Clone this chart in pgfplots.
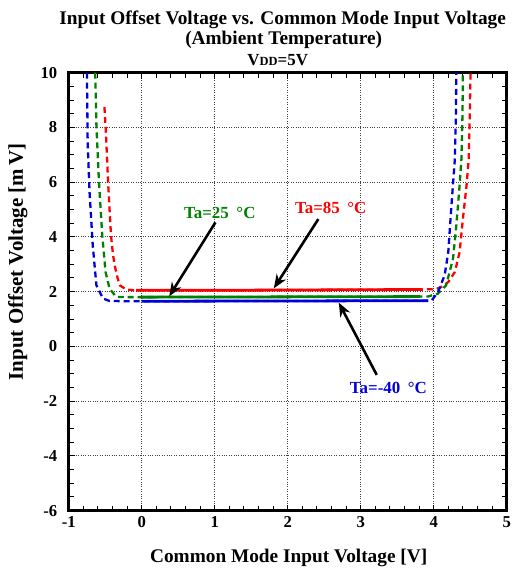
\documentclass[border=0pt]{standalone}
\usepackage{fontspec}
\setmainfont{Liberation Serif}
\usepackage{pgfplots}
\pgfplotsset{compat=1.18}
\usetikzlibrary{arrows.meta}
\definecolor{cred}{RGB}{255,0,0}
\definecolor{cgreen}{RGB}{0,128,0}
\definecolor{cblue}{RGB}{0,0,220}
\begin{document}
\begin{tikzpicture}
\begin{axis}[
  name=ax,
  scale only axis,
  width=440pt, height=440pt,
  xmin=-1, xmax=5, ymin=-6, ymax=10,
  xtick={-1,0,...,5}, ytick={-6,-4,...,10},
  minor x tick num=4, minor y tick num=3,
  tick align=inside,
  major tick length=6pt, minor tick length=5pt,
  tick style={black, line width=1pt},
  axis line style={line width=2.5pt},
  grid=major,
  major grid style={dotted, black!75, line width=1pt},
  /pgf/number format/assume math mode=true,
  ticklabel style={font=\bfseries\fontsize{16.7}{18}\selectfont},
  xticklabel style={yshift=-2pt},
  yticklabel style={xshift=-8pt},
  clip=true,
  dashpat/.style={dash pattern=on 6pt off 4pt, line width=2.3pt},
]
% red 85C
\addplot[cred, dashpat] coordinates {
(-0.51,8.75) (-0.49,7.8) (-0.46,6.0) (-0.44,5.0) (-0.42,4.05) (-0.395,3.4) (-0.37,2.96) (-0.33,2.5) (-0.30,2.23) (-0.21,2.08) (-0.1,2.05) (0,2.05) (1,2.05) (2,2.06) (3,2.07) (3.85,2.08) (3.98,2.09) (4.08,2.13) (4.2,2.35) (4.29,2.72) (4.355,3.44) (4.40,4.65) (4.45,5.87) (4.48,6.84) (4.495,8.5) (4.505,10)};
% green 25C
\addplot[cgreen, dashpat] coordinates {
(-0.636,10) (-0.62,8.05) (-0.585,6.0) (-0.54,4.05) (-0.495,2.72) (-0.44,2.11) (-0.35,1.81) (-0.2,1.80) (0,1.80) (2,1.81) (3.92,1.82) (4.06,1.93) (4.17,2.23) (4.265,3.2) (4.31,4.41) (4.355,5.87) (4.38,6.84) (4.395,8.5) (4.40,10)};
% blue -40C
\addplot[cblue, dashpat] coordinates {
(-0.75,10) (-0.74,7.44) (-0.714,5.63) (-0.67,3.68) (-0.62,2.23) (-0.53,1.75) (-0.44,1.66) (-0.2,1.65) (0,1.65) (2,1.66) (3.97,1.67) (4.06,1.99) (4.15,2.6) (4.20,3.44) (4.24,5.02) (4.29,6.84) (4.305,8.5) (4.31,10)};
% solid flat parts
\addplot[cblue, line width=2.8pt] coordinates {(0,1.65) (2,1.66) (3.92,1.67)};
\addplot[cgreen, line width=2.8pt] coordinates {(-0.01,1.80) (2,1.81) (3.81,1.82)};
\addplot[cred, line width=2.8pt] coordinates {(-0.077,2.05) (1,2.05) (2,2.06) (3,2.07) (3.85,2.08)};
% annotations
\node[cgreen, font=\bfseries\fontsize{17}{19}\selectfont] at (axis cs:1.07,4.87) {Ta=25\hspace{0.45em}°C};
\node[cred, font=\bfseries\fontsize{17}{19}\selectfont] at (axis cs:2.59,5.05) {Ta=85\hspace{0.45em}°C};
\node[cblue, font=\bfseries\fontsize{17}{19}\selectfont] at (axis cs:3.38,-1.53) {Ta=-40\hspace{0.45em}°C};
\draw[black, line width=2.6pt, -{Stealth[length=14pt,width=11pt]}] (axis cs:1.01,4.53) -- (axis cs:0.377,1.83);
\draw[black, line width=2.6pt, -{Stealth[length=14pt,width=11pt]}] (axis cs:2.42,4.65) -- (axis cs:1.81,2.12);
\draw[black, line width=2.6pt, -{Stealth[length=14pt,width=11pt]}] (axis cs:3.22,-1.04) -- (axis cs:2.70,1.60);
\end{axis}
% titles and labels
\node[anchor=base, font=\bfseries\fontsize{19.4}{22}\selectfont] at ([xshift=215pt, yshift=48pt]ax.north west) {Input Offset Voltage vs. Common Mode Input Voltage};
\node[anchor=base, font=\bfseries\fontsize{19.4}{22}\selectfont] at ([xshift=216pt, yshift=28pt]ax.north west) {(Ambient Temperature)};
\node[anchor=base, font=\bfseries\fontsize{17}{19}\selectfont] at ([xshift=210pt, yshift=7pt]ax.north west) {V{\fontsize{12.5}{14}\selectfont DD}=5V};
\node[anchor=base, font=\bfseries\fontsize{19.4}{22}\selectfont] at ([xshift=221pt, yshift=-52pt]ax.south west) {Common Mode Input Voltage [V]};
\node[anchor=base, rotate=90, font=\bfseries\fontsize{21}{23}\selectfont] at ([xshift=-46pt, yshift=250pt]ax.south west) {Input Offset Voltage [m\,V]};
\path (ax.south west) ++(-69pt,-57pt) rectangle ++(513pt,570pt);
\end{tikzpicture}
\end{document}
